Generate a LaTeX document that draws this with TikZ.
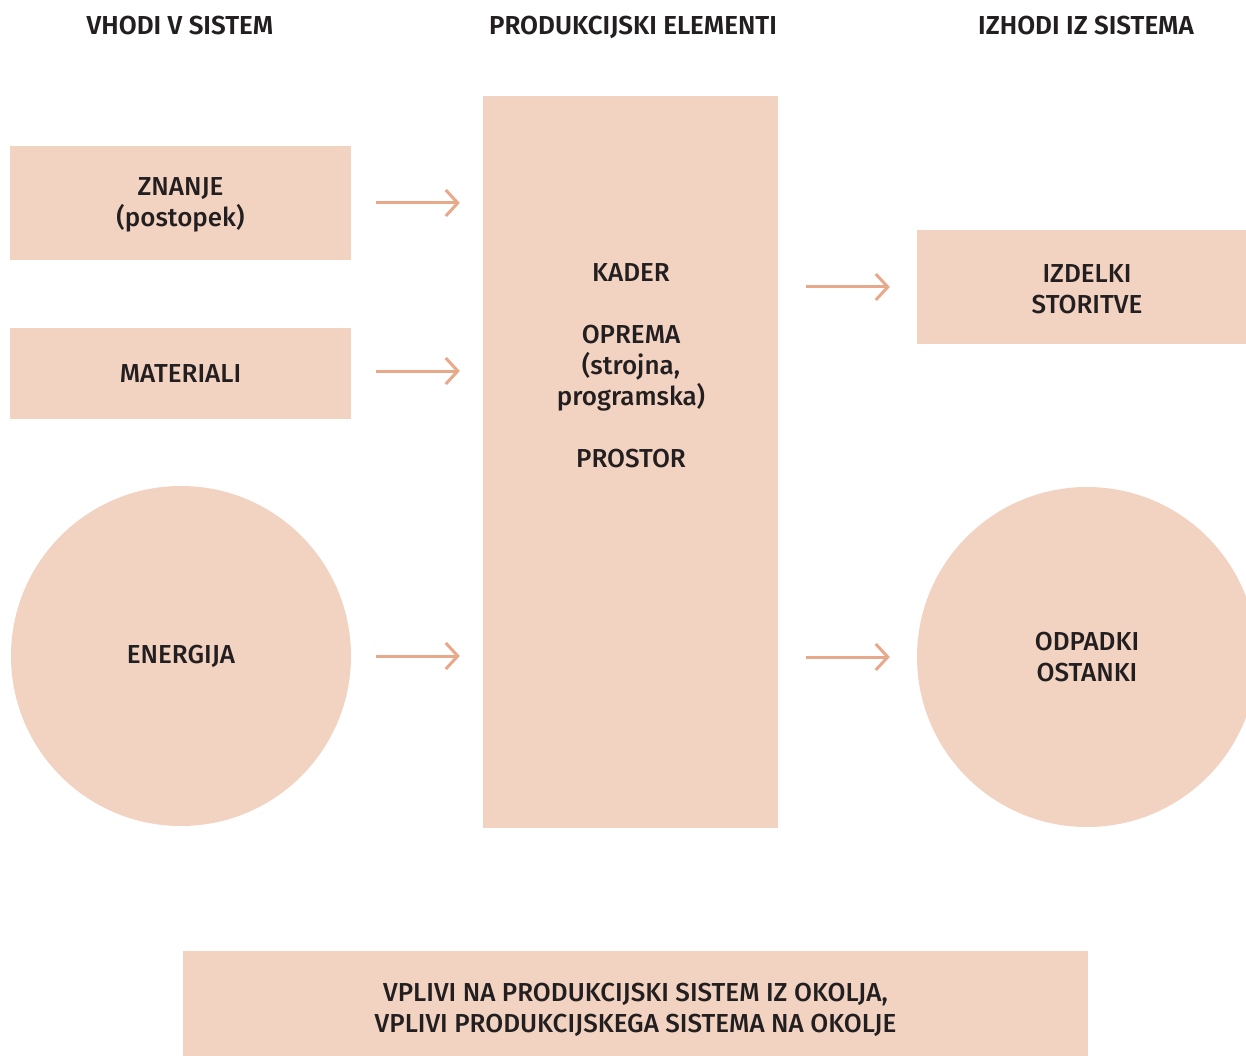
\documentclass[tikz,border=0pt]{standalone}
\usepackage{fontspec}
\setmainfont{Fira Sans}[UprightFont=* Medium, BoldFont=* SemiBold]
\usetikzlibrary{arrows.meta}
\definecolor{boxfill}{HTML}{F2D3C2}
\definecolor{arrowcol}{HTML}{E8A88A}
\definecolor{ink}{HTML}{231F20}
\begin{document}
\begin{tikzpicture}[x=1pt,y=-1pt,
  every node/.style={text=ink, font=\fontsize{26}{31}\selectfont, align=center, inner sep=0pt},
  head/.style={font=\fontsize{26}{31}\selectfont\bfseries, anchor=base},
  block/.style={fill=boxfill, rectangle},
  disc/.style={fill=boxfill, circle, minimum size=340pt},
  flow/.style={draw=arrowcol, line width=3pt,
    -{Straight Barb[length=12pt,width=26pt,line width=3pt]}},
]
\useasboundingbox (0,0) rectangle (1246,1056);
\clip (0,0) rectangle (1246,1056);
\fill[white] (0,0) rectangle (1246,1056);

% column headings
\node[head] (hin)   at (180,35)  {VHODI V SISTEM};
\node[head] (hcore) at (633,35)  {PRODUKCIJSKI ELEMENTI};
\node[head] (hout)  at (1086,35) {IZHODI IZ SISTEMA};

% inputs
\node[block, minimum width=341pt, minimum height=114pt] (zn) at (180.5,203) {};
\node (zntext) at (180.5,204.5) {ZNANJE\\(postopek)};
\node[block, minimum width=341pt, minimum height=91pt] (mat) at (180.5,373.5) {MATERIALI};
\node[disc] (en) at (181,656) {ENERGIJA};

% production elements
\node[block, minimum width=295pt, minimum height=732pt] (core) at (630.5,462) {};
\node (coretext) at (631,366) {KADER\\[31pt]OPREMA\\(strojna,\\programska)\\[31pt]PROSTOR};

% outputs
\node[block, minimum width=340pt, minimum height=114pt] (izd) at (1087,287) {};
\node (izdtext) at (1087,289) {IZDELKI\\STORITVE};
\node[disc] (odp) at (1087,657) {ODPADKI\\OSTANKI};

% environment
\node[block, minimum width=905pt, minimum height=110pt] (env) at (635.5,1006) {};
\node (envtext) at (635.5,1010) {VPLIVI NA PRODUKCIJSKI SISTEM IZ OKOLJA,\\VPLIVI PRODUKCIJSKEGA SISTEMA NA OKOLJE};

% flows
\draw[flow, shorten <=25pt, shorten >=23pt] (zn.east) -- (zn.east -| core.west);
\draw[flow, shorten <=25pt, shorten >=23pt] ([yshift=2.5pt]mat.east) -- ([yshift=2.5pt]mat.east -| core.west);
\draw[flow, shorten <=25pt, shorten >=23pt] (en.east) -- (en.east -| core.west);
\draw[flow, shorten <=28pt, shorten >=27pt] (core.east |- izd.west) -- (izd.west);
\draw[flow, shorten <=28pt, shorten >=27pt] (core.east |- odp.west) -- (odp.west);
\end{tikzpicture}
\end{document}
